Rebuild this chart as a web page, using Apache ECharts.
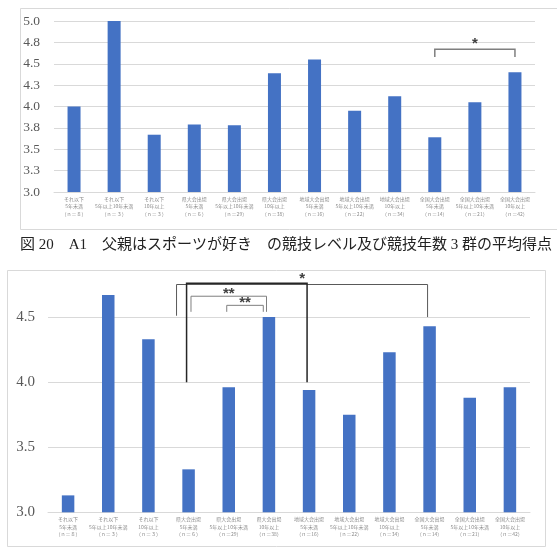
<!DOCTYPE html>
<html><head><meta charset="utf-8">
<script src="https://cdn.jsdelivr.net/npm/echarts@6/dist/echarts.min.js"></script>
<style>html,body{margin:0;padding:0;background:#fff}#c{width:557px;height:551px}</style>
</head><body><div id="c"></div>
<script>
const categories = [
  'それ以下\n5年未満\n（ｎ＝８）',
  'それ以下\n5年以上10年未満\n（ｎ＝３）',
  'それ以下\n10年以上\n（ｎ＝３）',
  '県大会出場\n5年未満\n（ｎ＝６）',
  '県大会出場\n5年以上10年未満\n（ｎ＝29）',
  '県大会出場\n10年以上\n（ｎ＝38）',
  '地域大会出場\n5年未満\n（ｎ＝16）',
  '地域大会出場\n5年以上10年未満\n（ｎ＝22）',
  '地域大会出場\n10年以上\n（ｎ＝34）',
  '全国大会出場\n5年未満\n（ｎ＝14）',
  '全国大会出場\n5年以上10年未満\n（ｎ＝21）',
  '全国大会出場\n10年以上\n（ｎ＝42）'
];
const topValues = [4.00, 5.00, 3.67, 3.79, 3.78, 4.39, 4.55, 3.95, 4.12, 3.64, 4.05, 4.40];
const bottomValues = [3.13, 4.67, 4.33, 3.33, 3.96, 4.50, 3.94, 3.75, 4.23, 4.43, 3.88, 3.96];
const captionText = '図 20　A1　父親はスポーツが好き　の競技レベル及び競技年数 3 群の平均得点';
// significance brackets: [fromIndex, toIndex, topValue, leftLegValue, rightLegValue, label]
const topBrackets = [[9, 11, 4.67, 4.58, 4.58, '*']];
const bottomBrackets = [
  [2.7, 8.95, 4.75, 4.51, 4.50, '*'],
  [2.95, 5.95, 4.76, 4.0, 4.0, ''],
  [3.06, 4.94, 4.66, 4.54, 4.54, '**'],
  [3.95, 4.86, 4.59, 4.54, 4.54, '**']
];

const chart = echarts.init(document.getElementById('c'), null, {renderer: 'canvas'});
const serif = '"Liberation Serif", "Noto Sans CJK JP", serif';
const labelFont = '"Noto Sans CJK JP", sans-serif';
function xAx(gi) {
  return {
    type: 'category', gridIndex: gi, data: categories,
    axisLine: {lineStyle: {color: '#d9d9d9', width: 1}},
    axisTick: {show: false},
    axisLabel: {fontSize: 5, lineHeight: 7.7, color: '#8c8c8c', fontFamily: labelFont, margin: 3, interval: 0}
  };
}
const option = {
  animation: false,
  backgroundColor: '#fff',
  grid: [
    {left: 54, right: 22, top: 21, height: 171},
    {left: 48, right: 27, top: 278, height: 234.3}
  ],
  xAxis: [xAx(0), xAx(1)],
  yAxis: [
    {type: 'value', gridIndex: 0, min: 3, max: 5, interval: 0.25,
      axisLabel: {fontSize: 13.5, color: '#595959', fontFamily: serif, margin: 14,
        formatter: v => v.toFixed(1)},
      axisLine: {show: false}, axisTick: {show: false},
      splitLine: {lineStyle: {color: '#d9d9d9', width: 1}}},
    {type: 'value', gridIndex: 1, min: 3, max: 4.8, interval: 0.5,
      axisLabel: {fontSize: 15, color: '#595959', fontFamily: serif, margin: 13, showMaxLabel: false,
        formatter: v => v.toFixed(1)},
      axisLine: {show: false}, axisTick: {show: false},
      splitLine: {showMaxLine: false, lineStyle: {color: '#d9d9d9', width: 1}}}
  ],
  series: [
    {type: 'bar', xAxisIndex: 0, yAxisIndex: 0, data: topValues, barWidth: 13,
      itemStyle: {color: '#4472c4'}},
    {type: 'bar', xAxisIndex: 1, yAxisIndex: 1, data: bottomValues, barWidth: 12.5,
      itemStyle: {color: '#4472c4'}}
  ]
};
chart.setOption(option);

function px(gi, idx, val) {
  const i0 = Math.floor(idx), f = idx - i0;
  const a = chart.convertToPixel({xAxisIndex: gi, yAxisIndex: gi}, [i0, val]);
  const b = chart.convertToPixel({xAxisIndex: gi, yAxisIndex: gi}, [i0 + 1, val]);
  return [a[0] + (b[0] - a[0]) * f, a[1]];
}
const bracketStyles = {
  0: [{color: '#7f7f7f', w: 1.5}],
  1: [{color: '#595959', w: 1}, {color: '#262626', w: 1.5}, {color: '#7f7f7f', w: 1}, {color: '#7f7f7f', w: 1}]
};
const graphics = [
  {type: 'rect', shape: {x: 20.5, y: 8.5, width: 545, height: 221}, style: {fill: null, stroke: '#d9d9d9', lineWidth: 1}, silent: true},
  {type: 'rect', shape: {x: 7.5, y: 270.5, width: 538, height: 276}, style: {fill: null, stroke: '#d9d9d9', lineWidth: 1}, silent: true},
  {type: 'text', left: 20, top: 238, style: {text: captionText, font: '15px "Liberation Serif", "Noto Sans CJK JP", serif', fill: '#222'}}
];
function addBrackets(gi, list) {
  list.forEach((b, k) => {
    const st = bracketStyles[gi][k] || bracketStyles[gi][0];
    const l = px(gi, b[0], b[2]), r = px(gi, b[1], b[2]);
    const ll = px(gi, b[0], b[3]), rl = px(gi, b[1], b[4]);
    graphics.push({type: 'polyline', shape: {points: [[ll[0], ll[1]], [l[0], l[1]], [r[0], r[1]], [rl[0], rl[1]]]},
      style: {stroke: st.color, lineWidth: st.w, fill: null}, silent: true});
    if (b[5]) {
      const dy = b[5].length > 1 ? 5 : 2;
      graphics.push({type: 'text', x: (l[0] + r[0]) / 2, y: l[1] + dy,
        style: {text: b[5], font: 'bold 15px "Liberation Sans", sans-serif', fill: '#404040',
          textAlign: 'center', textVerticalAlign: 'bottom'}, silent: true});
    }
  });
}
addBrackets(0, topBrackets);
addBrackets(1, bottomBrackets);
chart.setOption({graphic: graphics});
</script></body></html>
